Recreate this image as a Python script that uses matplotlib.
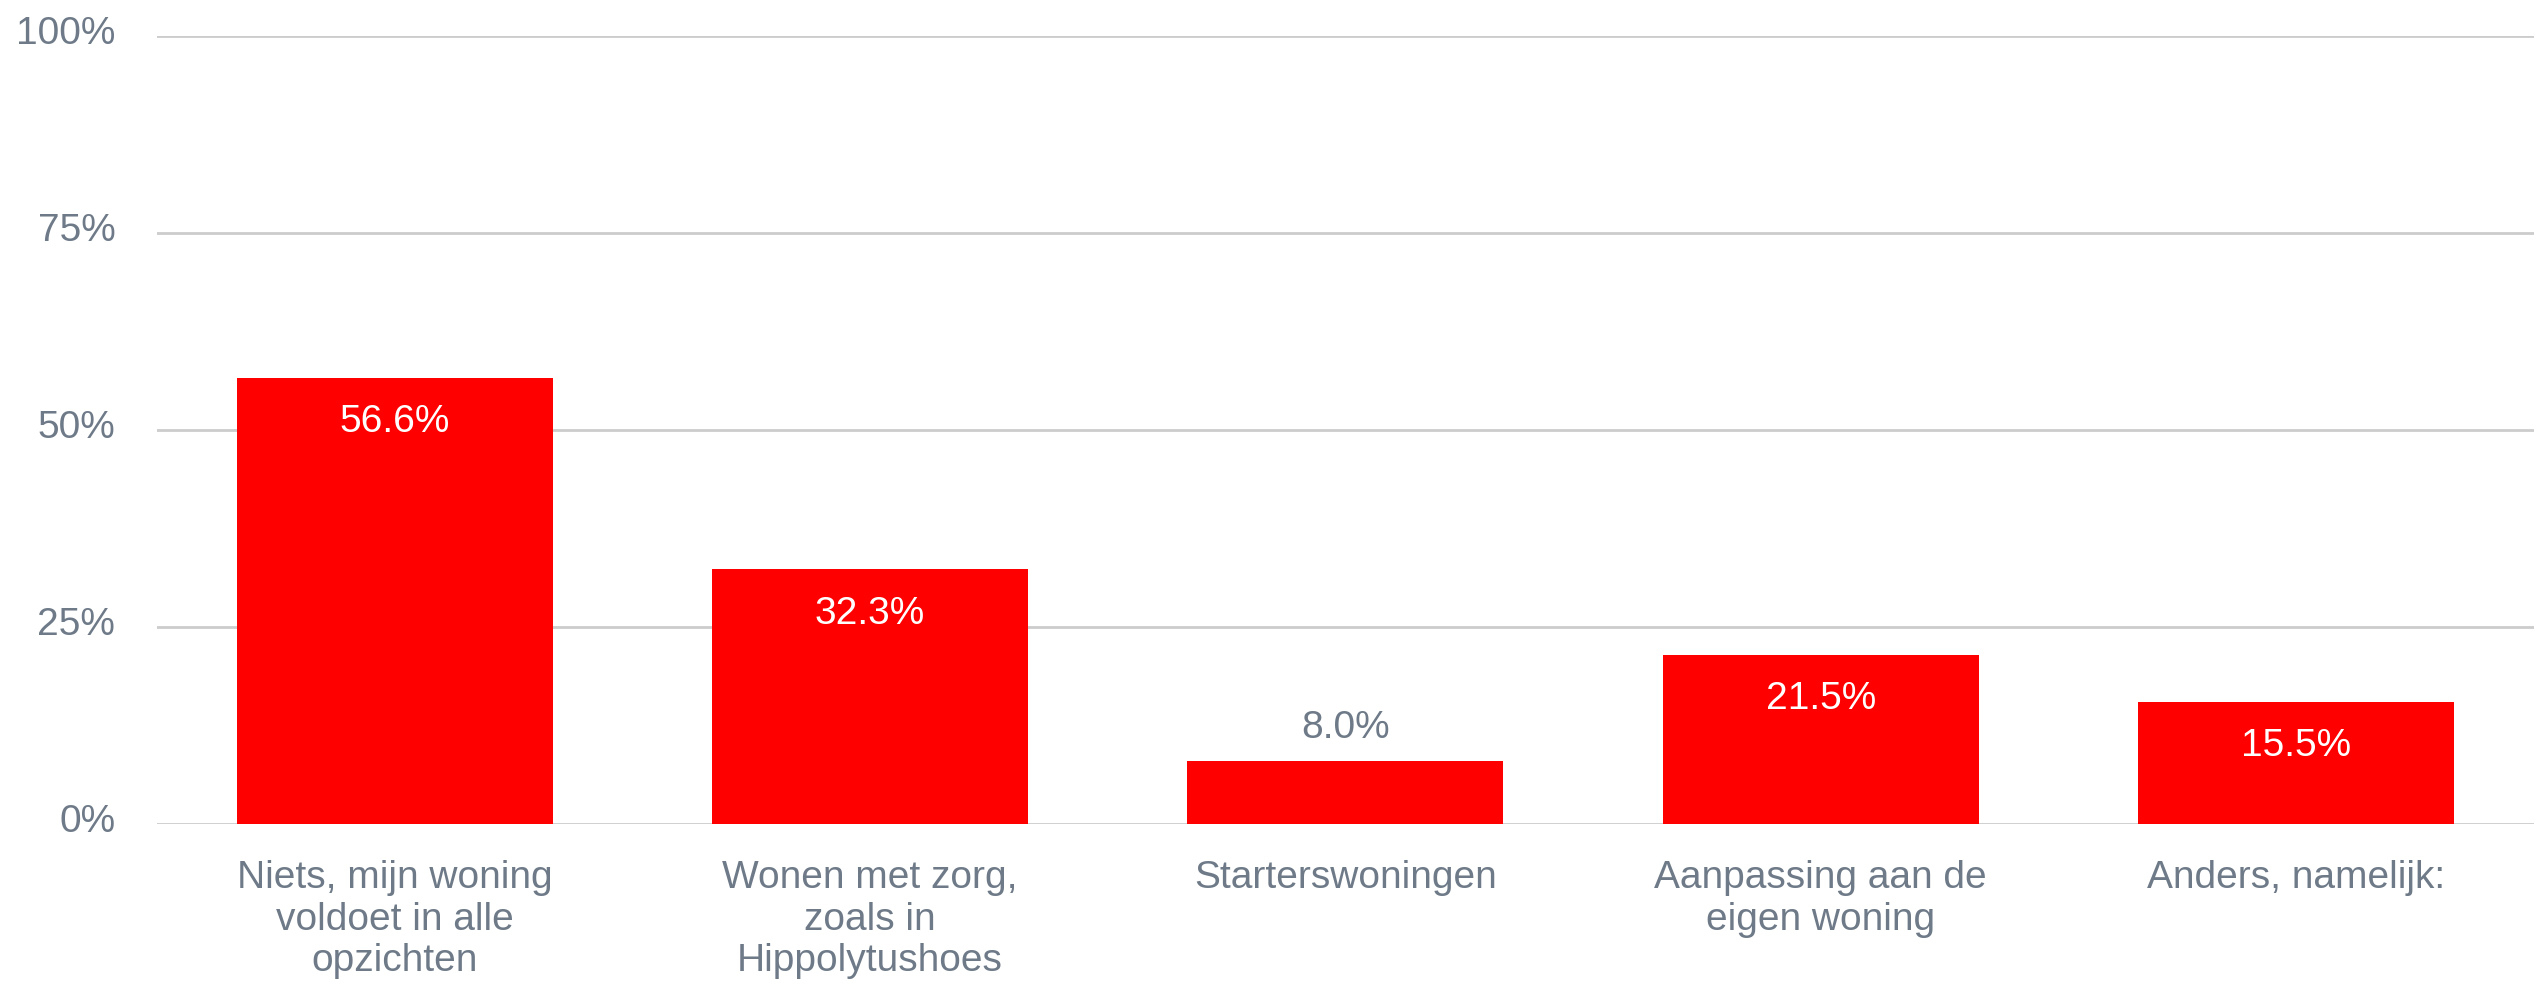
import matplotlib.pyplot as plt
import matplotlib.transforms as mtransforms

# categories and values (percent)
categories = [
    "Niets, mijn woning\nvoldoet in alle\nopzichten",
    "Wonen met zorg,\nzoals in\nHippolytushoes",
    "Starterswoningen",
    "Aanpassing aan de\neigen woning",
    "Anders, namelijk:",
]
values = [56.6, 32.3, 8.0, 21.5, 15.5]
yticks = [0, 25, 50, 75, 100]

plt.rcParams['font.family'] = ['Liberation Sans', 'DejaVu Sans']

txt_col = "#6e7a88"
grid_col = "#cccccc"
bar_col = "#ff0000"
fs = 28

fig = plt.figure(figsize=(25.44, 9.85), dpi=100)
ax = fig.add_axes([0.0617, 0.1635, 0.9343, 0.80])

x = list(range(len(categories)))
bars = ax.bar(x, values, width=0.665, color=bar_col, zorder=3)

ax.set_xlim(-0.5, len(categories) - 0.5)
ax.set_ylim(0, 100)
ax.set_yticks(yticks)
ax.set_yticklabels([f"{v}%" for v in yticks])
ax.yaxis.grid(True, color=grid_col, lw=2, zorder=0)
ax.set_xticks([])
for s in ax.spines.values():
    s.set_visible(False)
ax.tick_params(axis='y', length=0, pad=30, labelsize=fs, labelcolor=txt_col)
# shift y labels slightly up, like the original
off = mtransforms.ScaledTranslation(0, 6 / 100, fig.dpi_scale_trans)
for lab in ax.get_yticklabels():
    lab.set_transform(lab.get_transform() + off)

# category labels below axis
for xi, c in zip(x, categories):
    ax.annotate(c, (xi, 0), xytext=(0, -26), textcoords='offset points',
                ha='center', va='top', fontsize=fs, color=txt_col, linespacing=1.2)

# value labels
for xi, v in zip(x, values):
    if v > 12:
        ax.annotate(f"{v:.1f}%", (xi, v), xytext=(0, -32), textcoords='offset points',
                    ha='center', va='center', fontsize=fs, color='white', zorder=4)
    else:
        ax.annotate(f"{v:.1f}%", (xi, v), xytext=(0, 24), textcoords='offset points',
                    ha='center', va='center', fontsize=fs, color=txt_col, zorder=4)

fig.savefig("out.png", dpi=100)
